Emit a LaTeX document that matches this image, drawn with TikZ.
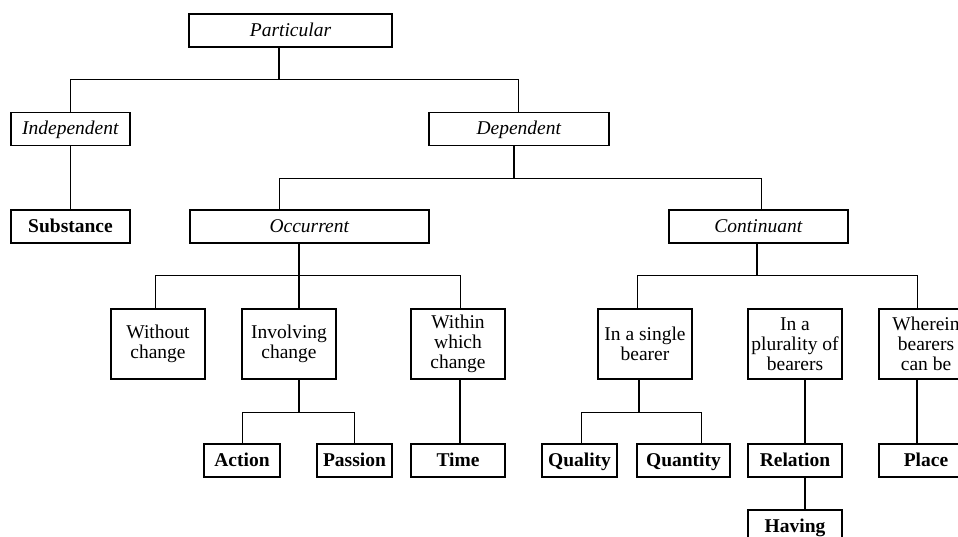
\documentclass[tikz,border=0pt]{standalone}
\usepackage{fontspec}
\setmainfont{Liberation Serif}
\usetikzlibrary{positioning,calc}

\begin{document}
\begin{tikzpicture}[x=1pt,y=-1pt,
    okvir/.style={draw, line width=1.4pt, inner sep=0pt, align=center,
                  font=\fontsize{19.5}{20}\selectfont},
    siroki/.style={minimum width=94pt, minimum height=70pt},
    niski/.style={minimum height=33pt, text height=14.5pt, text depth=2.5pt},
    grana/.style={line width=1.1pt},
    spoj/.style={line width=0.8pt}]
\useasboundingbox (0,0) rectangle (958,537);

%kutije
    %vrh
	\node[okvir, niski, minimum width=203pt] (par) at (290.5,30.5) {\textit{Particular}};
	\node[okvir, niski, minimum width=119pt] (ind) at (70.5,129) {\textit{Independent}};
	\node[okvir, niski, minimum width=180pt] (dep) at (519,129) {\textit{Dependent}};
	\node[okvir, niski, minimum width=119pt] (sub) at (70.5,226.5) {\textbf{Substance}};
	\node[okvir, niski, minimum width=239pt] (occ) at (309.5,226.5) {\textit{Occurrent}};
	\node[okvir, niski, minimum width=179pt] (con) at (758.5,226.5) {\textit{Continuant}};

    %srednji red
	\node[okvir, siroki] (wo)  at (158,344) {Without\\change};
	\node[okvir, siroki] (inv) at (289,344) {Involving\\change};
	\node[okvir, siroki] (wit) at (458,344) {Within\\which\\change};
	\node[okvir, siroki] (sin) at (645,344) {In a single\\bearer};
	\node[okvir, siroki] (plu) at (795,344) {In a\\plurality of\\bearers};
	\node[okvir, siroki] (whe) at (926,344) {Wherein\\bearers\\can be};

    %donji red
	\node[okvir, niski, minimum width=76pt] (act) at (242,460.5) {\textbf{Action}};
	\node[okvir, niski, minimum width=75pt] (pas) at (354.5,460.5) {\textbf{Passion}};
	\node[okvir, niski, minimum width=94pt] (tim) at (458,460.5) {\textbf{Time}};
	\node[okvir, niski, minimum width=75pt] (qua) at (579.5,460.5) {\textbf{Quality}};
	\node[okvir, niski, minimum width=93pt] (qty) at (683.5,460.5) {\textbf{Quantity}};
	\node[okvir, niski, minimum width=94pt] (rel) at (795,460.5) {\textbf{Relation}};
	\node[okvir, niski, minimum width=94pt] (pla) at (926,460.5) {\textbf{Place}};
	\node[okvir, niski, minimum width=94pt] (hav) at (795,526.5) {\textbf{Having}};

%grane
    %Particular
	\draw[grana] ($(par.south)+(-11.5,0)$) -- ++(0,32) coordinate (b1);
	\draw[spoj] (ind.north) |- (b1) -| ($(dep.north)+(-1,0)$);
	\draw[grana] (ind.south) -- (sub.north);

    %Dependent
	\draw[grana] ($(dep.south)+(-5,0)$) -- ++(0,32) coordinate (b2);
	\draw[spoj] ($(occ.north)+(-30.5,0)$) |- (b2) -| ($(con.north)+(2.5,0)$);

    %Occurrent
	\draw[grana] ($(occ.south)+(-10.5,0)$) -- ($(inv.north)+(10,0)$);
	\path ($(occ.south)+(-10.5,0)$) -- ++(0,32) coordinate (b3);
	\draw[spoj] ($(wo.north)+(-3,0)$) |- (b3) -| ($(wit.north)+(2,0)$);

    %Continuant
	\draw[grana] ($(con.south)+(-1.5,0)$) -- ++(0,32) coordinate (b4);
	\draw[spoj] ($(sin.north)+(-8,0)$) |- (b4) -| ($(whe.north)+(-9,0)$);
	\draw[grana] ($(plu.north)+(10,0)$) -- ($(plu.north)+(10,0)$ |- b4);

    %donje grane
	\draw[grana] ($(inv.south)+(10,0)$) -- ++(0,33) coordinate (b5);
	\draw[spoj] (act.north) |- (b5) -| (pas.north);
	\draw[grana] ($(wit.south)+(2,0)$) -- ($(tim.north)+(2,0)$);
	\draw[grana] ($(sin.south)+(-6,0)$) -- ++(0,33) coordinate (b6);
	\draw[spoj] ($(qua.north)+(1.5,0)$) |- (b6) -| ($(qty.north)+(17.5,0)$);
	\draw[grana] ($(plu.south)+(10,0)$) -- ($(rel.north)+(10,0)$);
	\draw[grana] ($(rel.south)+(10,0)$) -- ($(hav.north)+(10,0)$);
	\draw[grana] ($(whe.south)+(-9,0)$) -- ($(pla.north)+(-9,0)$);
\end{tikzpicture}
\end{document}
